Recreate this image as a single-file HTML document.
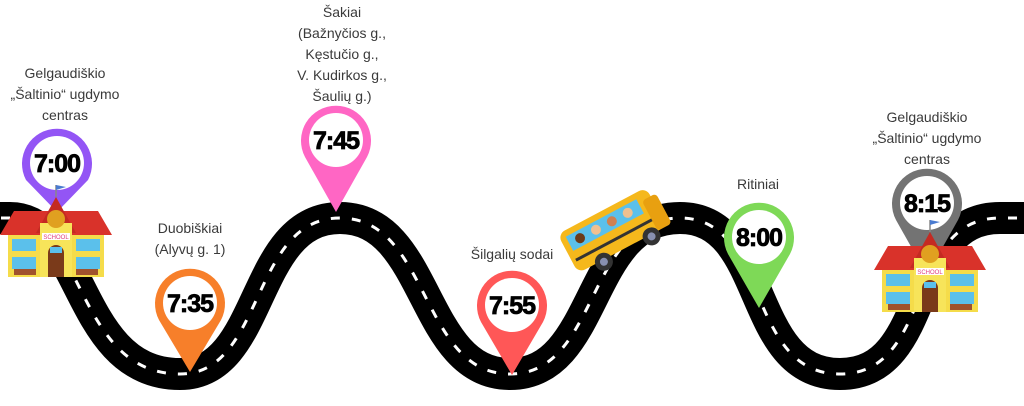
<!DOCTYPE html>
<html><head><meta charset="utf-8"><style>
html,body{margin:0;padding:0;background:#fff;width:1024px;height:406px;overflow:hidden}
svg{display:block}
.l{font-family:"Liberation Sans",sans-serif;font-size:14px;fill:#3a3a3a;text-anchor:middle}
.t{font-family:"Liberation Sans",sans-serif;font-size:25px;font-weight:bold;fill:#000;text-anchor:middle;letter-spacing:-1px;stroke:#000;stroke-width:0.8}
</style></head><body>
<svg width="1024" height="406" viewBox="0 0 1024 406">
<defs>
<g id="school">
<rect x="8" y="38" width="96" height="46" fill="#f5dc4a"/>
<polygon points="0,42 14,18 98,18 112,42" fill="#d9322a"/>
<polygon points="36,40 56,4 76,40" fill="#c42a22"/>
<rect x="40" y="30" width="32" height="54" fill="#f7e45a"/>
<circle cx="56" cy="26" r="9" fill="#e0a020"/>
<rect x="42" y="40" width="28" height="7" fill="#fff"/>
<text x="56" y="46" font-family="Liberation Sans,sans-serif" font-size="6" fill="#e04080" text-anchor="middle">SCHOOL</text>
<path d="M48,84 V60 a8 8 0 0 1 16 0 V84Z" fill="#7a3a1a"/>
<rect x="50" y="54" width="12" height="6" fill="#5bc0eb"/>
<rect x="12" y="46" width="24" height="12" fill="#5bc0eb"/>
<rect x="12" y="64" width="24" height="12" fill="#5bc0eb"/>
<rect x="76" y="46" width="24" height="12" fill="#5bc0eb"/>
<rect x="76" y="64" width="24" height="12" fill="#5bc0eb"/>
<rect x="14" y="76" width="22" height="6" fill="#a0522d"/>
<rect x="76" y="76" width="22" height="6" fill="#a0522d"/>
<line x1="56" y1="4" x2="56" y2="-8" stroke="#888" stroke-width="1.5"/>
<polygon points="56,-8 66,-6 56,-3" fill="#4a7bd0"/>
</g>
</defs>
<path d="M-20 218 L10 218 C 85 218, 75 374, 180 374 C 265 374, 250 218, 340 218 C 430 218, 420 374, 510 374 C 600 374, 585 218, 680 218 C 770 218, 745 374, 840 374 C 935 374, 905 218, 1000 218 L 1040 218" fill="none" stroke="#000" stroke-width="32"/>
<path d="M-20 218 L10 218 C 85 218, 75 374, 180 374 C 265 374, 250 218, 340 218 C 430 218, 420 374, 510 374 C 600 374, 585 218, 680 218 C 770 218, 745 374, 840 374 C 935 374, 905 218, 1000 218 L 1040 218" fill="none" stroke="#fff" stroke-width="3" stroke-dasharray="9 12"/>

<path d="M57,212 L26,180 A35 35 0 1 1 88,180 Z" fill="#9355f5"/><circle cx="57" cy="163" r="27" fill="#fff"/><text class="t" x="57" y="172">7:00</text>
<path d="M190,372 L159,320 A35 35 0 1 1 221,320 Z" fill="#f77f2a"/><circle cx="190" cy="303" r="27" fill="#fff"/><text class="t" x="190" y="312">7:35</text>
<path d="M336,212 L305,157 A35 35 0 1 1 367,157 Z" fill="#ff66c4"/><circle cx="336" cy="140" r="27" fill="#fff"/><text class="t" x="336" y="149">7:45</text>
<path d="M512,375 L481,322 A35 35 0 1 1 543,322 Z" fill="#ff5757"/><circle cx="512" cy="305" r="27" fill="#fff"/><text class="t" x="512" y="314">7:55</text>
<path d="M759,308 L728,254 A35 35 0 1 1 790,254 Z" fill="#7ed957"/><circle cx="759" cy="237" r="27" fill="#fff"/><text class="t" x="759" y="246">8:00</text>
<path d="M927,275 L896,220 A35 35 0 1 1 958,220 Z" fill="#737373"/><circle cx="927" cy="203" r="27" fill="#fff"/><text class="t" x="927" y="212">8:15</text>

<use href="#school" x="0" y="193"/>
<use href="#school" x="874" y="228"/>

<g transform="translate(613,232) rotate(-28)">
<rect x="-50" y="-24" width="100" height="44" rx="8" fill="#f5b81c"/>
<rect x="40" y="-14" width="16" height="34" rx="4" fill="#e8a010"/>
<rect x="-44" y="-18" width="80" height="16" fill="#5bc0eb"/>
<circle cx="-32" cy="-10" r="5" fill="#6b3b1a"/><circle cx="-14" cy="-10" r="5" fill="#f0c090"/><circle cx="4" cy="-10" r="5" fill="#d08050"/><circle cx="22" cy="-10" r="5" fill="#f0c090"/>
<rect x="-46" y="6" width="86" height="3" fill="#333"/>
<circle cx="-22" cy="22" r="9" fill="#333"/><circle cx="-22" cy="22" r="4" fill="#8890b0"/>
<circle cx="32" cy="22" r="9" fill="#333"/><circle cx="32" cy="22" r="4" fill="#8890b0"/>
</g>

<text class="l" x="65" y="78">Gelgaudiškio</text>
<text class="l" x="65" y="99">„Šaltinio“ ugdymo</text>
<text class="l" x="65" y="120">centras</text>
<text class="l" x="342" y="17">Šakiai</text>
<text class="l" x="342" y="38">(Bažnyčios g.,</text>
<text class="l" x="342" y="59">Kęstučio g.,</text>
<text class="l" x="342" y="80">V. Kudirkos g.,</text>
<text class="l" x="342" y="101">Šaulių g.)</text>
<text class="l" x="190" y="233">Duobiškiai</text>
<text class="l" x="190" y="254">(Alyvų g. 1)</text>
<text class="l" x="512" y="259">Šilgalių sodai</text>
<text class="l" x="758" y="189">Ritiniai</text>
<text class="l" x="927" y="122">Gelgaudiškio</text>
<text class="l" x="927" y="143">„Šaltinio“ ugdymo</text>
<text class="l" x="927" y="164">centras</text>
</svg>
</body></html>
